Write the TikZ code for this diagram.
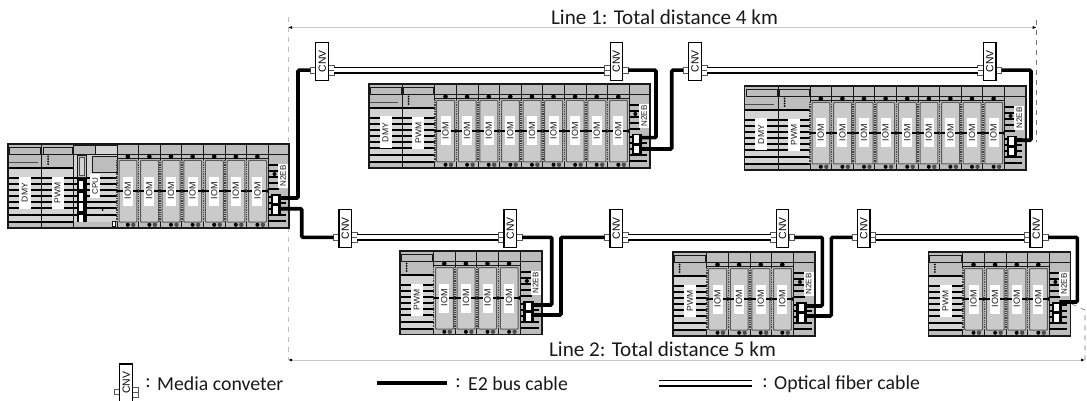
\documentclass[tikz,border=0pt]{standalone}
\usepackage{fontspec}
\setmainfont{Carlito}
\newfontfamily\lblfont{Liberation Sans}
\usetikzlibrary{calc,arrows.meta}
\definecolor{rk}{gray}{0.74}
\definecolor{rkl}{gray}{0.83}
\definecolor{dk}{gray}{0.1}
\tikzset{
  x=1pt,y=-1pt,
  cable/.style={line width=3.6pt,black,rounded corners=1.2pt},
  fiber/.style={line width=1.2pt,draw=black,double=white,double distance=4.3pt},
  cnvbox/.style={draw=black,line width=1.1pt,fill=white,rotate=90,minimum width=38pt,minimum height=12.6pt,inner sep=0pt,font=\lblfont\fontsize{10.4}{10.4}\selectfont},
  port/.style={draw=black!65,line width=.5pt,fill=white},
  modlabel/.style={fill=white,rotate=90,inner sep=0pt,text=dk},
  stripe/.style={line width=1.2pt,black},
  rackrule/.style={line width=.8pt,black!90},
  dimline/.style={line width=.8pt,black!22,{Latex[length=4pt,width=3pt,black]}-{Latex[length=4pt,width=3pt,black]}},
  guide/.style={line width=.6pt,dash pattern=on 5pt off 5pt},
  captxt/.style={text=dk,inner sep=0pt,font=\fontsize{19.8}{22}\selectfont},
  headtxt/.style={text=dk,inner sep=0pt,font=\fontsize{21.1}{23}\selectfont},
}
% converter: copper on the left, fibre on the right
\newcommand\cnvA[3]{%
  \draw[port] (#2-11.8,#3+6.4) rectangle (#2-6.3,#3+11.6);
  \draw[port] (#2+6.3,#3+3.8) rectangle (#2+12,#3+8.9);
  \draw[port] (#2+6.3,#3+9.1) rectangle (#2+12,#3+14.4);
  \node[cnvbox] (#1) at (#2,#3) {CNV};
  \coordinate (#1-L) at ($(#1.center)+(-11.8,9)$);
  \coordinate (#1-R) at ($(#1.center)+(12,9)$);
}
% converter: fibre on the left, copper on the right
\newcommand\cnvB[3]{%
  \draw[port] (#2-12,#3+3.8) rectangle (#2-6.3,#3+8.9);
  \draw[port] (#2-12,#3+9.1) rectangle (#2-6.3,#3+14.4);
  \draw[port] (#2+6.3,#3+6.4) rectangle (#2+11.8,#3+11.6);
  \node[cnvbox] (#1) at (#2,#3) {CNV};
  \coordinate (#1-L) at ($(#1.center)+(-12,9)$);
  \coordinate (#1-R) at ($(#1.center)+(11.8,9)$);
}
% header of any plain column
\newcommand\colhead[2]{%
  \draw[rackrule] (#1,0) -- (#1,84);
  \draw[rackrule,fill=rk] (#1+1.5,3) rectangle (#1+#2-1,10);
}
% stripes
\newcommand\stripes[3]{%
  \fill[rkl] (#1,16) rectangle (#1+#2,84);
  \foreach \yy in {#3} \draw[stripe] (#1,\yy) -- (#1+#2,\yy);
}
% DMY
\newcommand\dmymod[3]{%
  \colhead{#2}{#3}
  \stripes{#2}{#3}{24,34,40,46,52,58,64,71,78}
  \draw[rackrule] (#2,16) -- (#2+#3,16);
  \fill[rk] (#2,16.5) rectangle (#2+#3,23);
  \fill[rk] (#2,79) rectangle (#2+#3,84);
  \draw[line width=1pt,black!70] (#2,19) -- (#2+#3-4,19);
  \node[modlabel,minimum width=32pt,minimum height=12pt,font=\lblfont\fontsize{8.6}{8.6}\selectfont] (#1) at (#2+#3/2,48.5) {DMY};
}
% PWM
\newcommand\pwmmod[3]{%
  \colhead{#2}{#3}
  \stripes{#2}{#3}{24,34,40,46,52,58,64,71,78}
  \fill[rk] (#2,11) rectangle (#2+#3,23);
  \fill[rk] (#2,79) rectangle (#2+#3,84);
  \draw[rackrule] (#2,10.5) -- (#2+#3,10.5);
  \draw[rackrule] (#2,0) -- (#2,84);
  \foreach \yy in {12.5,15,17.5,20} \fill[black] (#2+6.5,\yy) circle (1);
  \node[modlabel,minimum width=32pt,minimum height=12pt,font=\lblfont\fontsize{8.5}{8.5}\selectfont] (#1) at (#2+#3/2,49) {PWM};
}
% I/O module
\newcommand\iommod[2]{%
  \pgfmathsetmacro\ctr{#2+10.8}
  \draw[rackrule] (#2,0) -- (#2,16) (#2,78) -- (#2,84);
  \draw[rackrule] (#2,10.5) -- (#2+21.6,10.5);
  \draw[line width=1.6pt,black!75,dash pattern=on 1pt off .8pt] (#2,16) -- (#2,78);
  \draw[rackrule] (#2,14.6) -- (#2+21.6,14.6);
  \draw[line width=1pt,black!65,fill=rk!80!white,rounded corners=.8pt] (#2+2,16.5) rectangle (#2+19.9,78);
  \draw[line width=1.2pt,black] (#2,47) -- (#2+19.6,47);
  \fill[black] (#2+19,47) -- (#2+21.6,44.8) -- (#2+21.6,49.2) -- cycle;
  \fill[black] (\ctr,12.7) circle (2.3);
  \fill[black] (\ctr,80.8) circle (2);
  \fill[black!70] (\ctr+5.5,80.8) circle (2.2);
  \node[modlabel,minimum width=29pt,minimum height=10pt,font=\lblfont\fontsize{9}{9}\selectfont] (#1) at (\ctr,47) {IOM};
}
% N2EB
\newcommand\nmod[2]{%
  \draw[rackrule] (#2,0) -- (#2,84);
  \draw[rackrule] (#2,10.5) -- (#2+21.4,10.5);
  \foreach \yy in {21,27,33,39,45}
    \draw[line width=1.1pt,black] (#2,\yy) -- (#2+11,\yy);
  \foreach \yy in {53,59,65,71,77} \draw[line width=1.1pt,black] (#2,\yy) -- (#2+18,\yy);
  \fill[black] (#2+6.3,30) circle (2);
  \node[modlabel,minimum width=24pt,minimum height=10pt,font=\lblfont\fontsize{8}{8}\selectfont] (#1-lab) at (#2+15,32) {N2EB};
  \fill[black] (#2+2.5,50) rectangle (#2+13,71);
  \fill[white] (#2+5,51.5) rectangle (#2+10,59);
  \fill[white] (#2+5,62) rectangle (#2+10,69.5);
}
% whole rack frame
\newcommand\frameback[2]{\fill[rk] (0,0) rectangle (#1,#2);}
\newcommand\frametop[2]{\draw[line width=1.1pt,black!90] (0,0) rectangle (#1,#2);}
\newcommand\iomrun[3]{\foreach \i in {1,...,#3} {\pgfmathsetmacro\xx{#2+(\i-1)*21.6}\iommod{#1\i}{\xx}}}
\begin{document}
\begin{tikzpicture}
\useasboundingbox (0,0) rectangle (1087,401);
% guides
\draw[guide,black!25] (288,17) -- (288,360);
\draw[guide,black!55] (1036.7,20) -- (1036.7,142);
\draw[guide,black!55] (1071.7,304) -- (1085,310) -- (1085,360);
% dimension lines
\coordinate (d1a) at (288,27.5);
\coordinate (d1b) at (1036.7,27.5);
\coordinate (d2a) at (288,360);
\coordinate (d2b) at (1085,360);
\draw[dimline] (d1a) -- (d1b);
\draw[dimline] (d2a) -- (d2b);
\node[headtxt,anchor=center] (t1) at (664.5,17) {Line 1: Total distance 4 km};
\node[headtxt,anchor=center] (t2) at (662.5,349) {Line 2: Total distance 5 km};
% main rack
\begin{scope}[shift={(8,144)}]
  \frameback{281}{84}
  \dmymod{ma}{0}{33.5}
  \pwmmod{mb}{33.5}{32}
  % CPU column
  \draw[rackrule] (65.5,0) -- (65.5,84);
  \fill[rkl] (65.5,0) rectangle (109,84);
  \draw[rackrule,fill=rk] (65.5,1) rectangle (87,10);
  \draw[rackrule,fill=rkl] (87,1) rectangle (109,10);
  \foreach \yy in {34,40,46,52,58,64,71}
    \draw[stripe] (65.5,\yy) -- (109,\yy);
  \draw[rackrule,fill=rk] (84,12) rectangle (109,28);
  \draw[rackrule,fill=rk] (69,11) rectangle (78,33);
  \draw[line width=.9pt,black!70,fill=rkl] (71,13) rectangle (76,31);
  \fill[black] (69,35) rectangle (79,80);
  \foreach \yy in {37,49,59,71} \fill[white] (71,\yy) rectangle (75,\yy+8);
  \fill[rk] (65.5,78) rectangle (109,84);
  \fill[black] (94.5,66) circle (1);
  \draw[rackrule,fill=white] (104,77) rectangle (107,82);
  \node[modlabel,minimum width=24pt,minimum height=10pt,font=\lblfont\fontsize{8}{8}\selectfont] (mc) at (87,42) {CPU};
  \iomrun{mi}{109}{7}
  \nmod{mn}{260.2}
  \frametop{281}{84}
  \coordinate (mn-a) at (271,54);
  \coordinate (mn-b) at (271,64.7);
\end{scope}
% line 1 racks
\begin{scope}[shift={(369,84)}]
  \frameback{281}{84}
  \dmymod{ra}{0}{33}
  \pwmmod{rb}{33}{32.7}
  \iomrun{ri}{65.7}{9}
  \nmod{rn}{260}
  \frametop{281}{84}
  \coordinate (rn-a) at (271,53.7);
  \coordinate (rn-b) at (271,65);
\end{scope}
\begin{scope}[shift={(744.5,86)}]
  \frameback{281.5}{84}
  \dmymod{sa}{0}{33.5}
  \pwmmod{sb}{33.5}{32}
  \iomrun{si}{65.5}{9}
  \nmod{sn}{259.8}
  \frametop{281.5}{84}
  \coordinate (sn-a) at (271,54.3);
\end{scope}
% line 2 racks
\begin{scope}[shift={(400,251)}]
  \frameback{142}{83.5}
  \pwmmod{ub}{0}{33.5}
  \iomrun{ui}{33.5}{4}
  \nmod{un}{120.6}
  \frametop{142}{83.5}
  \coordinate (un-a) at (131,54);
  \coordinate (un-b) at (131,64);
\end{scope}
\begin{scope}[shift={(673,252)}]
  \frameback{142}{84}
  \pwmmod{vb}{0}{33.7}
  \iomrun{vi}{33.7}{4}
  \nmod{vn}{120.6}
  \frametop{142}{84}
  \coordinate (vn-a) at (131,54);
  \coordinate (vn-b) at (131,64);
\end{scope}
\begin{scope}[shift={(928.3,252)}]
  \frameback{142.4}{84}
  \pwmmod{wb}{0}{34.4}
  \iomrun{wi}{34.4}{4}
  \nmod{wn}{120.8}
  \frametop{142.4}{84}
  \coordinate (wn-a) at (131,50);
\end{scope}
% converters
\cnvA{c1}{322.2}{61.2}
\cnvB{c2}{616.4}{61.2}
\cnvA{c3}{695}{61.2}
\cnvB{c4}{989.7}{61.2}
\cnvA{e1}{345.3}{228.3}
\cnvB{e2}{510.3}{228.3}
\cnvA{e3}{616.3}{228.3}
\cnvB{e4}{782.5}{228.3}
\cnvA{e5}{863.7}{228.3}
\cnvB{e6}{1036.3}{228.3}
% fibres
\draw[fiber] (c1-R) -- (c2-L);
\draw[fiber] (c3-R) -- (c4-L);
\draw[fiber] (e1-R) -- (e2-L);
\draw[fiber] (e3-R) -- (e4-L);
\draw[fiber] (e5-R) -- (e6-L);
% E2 bus cables
\draw[cable] (mn-a) -- ++(19,0) |- (c1-L);
\draw[cable] (mn-b) -- ++(22.7,0) |- (e1-L);
\draw[cable] (c2-R) -| ($(rn-a)+(16,0)$) -- (rn-a);
\draw[cable] (rn-b) -- ++(31.7,0) |- (c3-L);
\draw[cable] (c4-R) -| ($(sn-a)+(15.5,0)$) -- (sn-a);
\draw[cable] (e2-R) -| ($(un-a)+(20.7,0)$) -- (un-a);
\draw[cable] (un-b) -- ++(30,0) |- (e3-L);
\draw[cable] (e4-R) -| ($(vn-a)+(18.3,0)$) -- (vn-a);
\draw[cable] (vn-b) -- ++(27.3,0) |- (e5-L);
\draw[cable] (e6-R) -| ($(wn-a)+(18,0)$) -- (wn-a);
% legend
\cnvA{lg}{126.2}{383}
\node[captxt] (k1) at (148,383) {:};
\node[captxt,anchor=west] (k2) at (157,384) {Media conveter};
\coordinate (l1a) at (376.7,383.3);
\coordinate (l1b) at (446.7,383.3);
\draw[line width=4pt,black] (l1a) -- (l1b);
\node[captxt] (k3) at (458,383) {:};
\node[captxt,anchor=west] (k4) at (468,384) {E2 bus cable};
\coordinate (l2a) at (659,383.3);
\coordinate (l2b) at (751.7,383.3);
\draw[fiber] (l2a) -- (l2b);
\node[captxt] (k5) at (765,383) {:};
\node[captxt,anchor=west] (k6) at (774,384) {Optical fiber cable};
\end{tikzpicture}
\end{document}
